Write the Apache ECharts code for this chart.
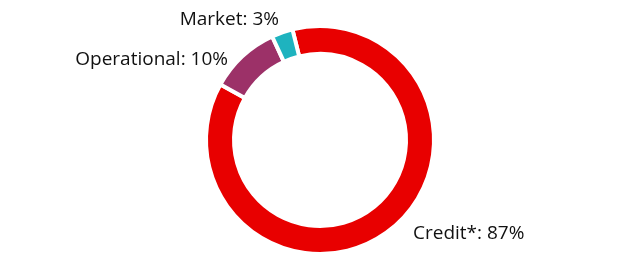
<!DOCTYPE html>
<html>
<head>
<meta charset="utf-8">
<script src="https://cdn.jsdelivr.net/npm/echarts@6/dist/echarts.min.js"></script>
<style>html,body{margin:0;padding:0;background:#fff}#c{width:640px;height:280px}</style>
</head>
<body>
<div id="c"></div>
<script>
const categories = ['Credit*', 'Operational', 'Market'];
const values = [87, 10, 3];
const colors = ['#e80000', '#9c3168', '#1eb3bf'];

// label anchor layout (text placement only)
const labelLayouts = [
  { x: 413, y: 234, align: 'left' },
  { x: 228, y: 60, align: 'right' },
  { x: 279, y: 20, align: 'right' }
];

const chart = echarts.init(document.getElementById('c'), null, { renderer: 'canvas' });
chart.setOption({
  animation: false,
  series: [{
    type: 'pie',
    center: [320, 140],
    radius: [86, 114],
    startAngle: 104,
    clockwise: true,
    itemStyle: { borderColor: '#fff', borderWidth: 4 },
    label: {
      show: true,
      position: 'outside',
      formatter: p => p.name + ': ' + p.value + '%',
      fontFamily: 'Open Sans',
      fontSize: 19,
      color: '#111'
    },
    labelLine: { show: false },
    labelLayout: p => Object.assign({ verticalAlign: 'middle' }, labelLayouts[p.dataIndex]),
    emphasis: { disabled: true },
    data: categories.map((n, i) => ({ name: n, value: values[i], itemStyle: { color: colors[i] } }))
  }]
});
</script>
</body>
</html>
